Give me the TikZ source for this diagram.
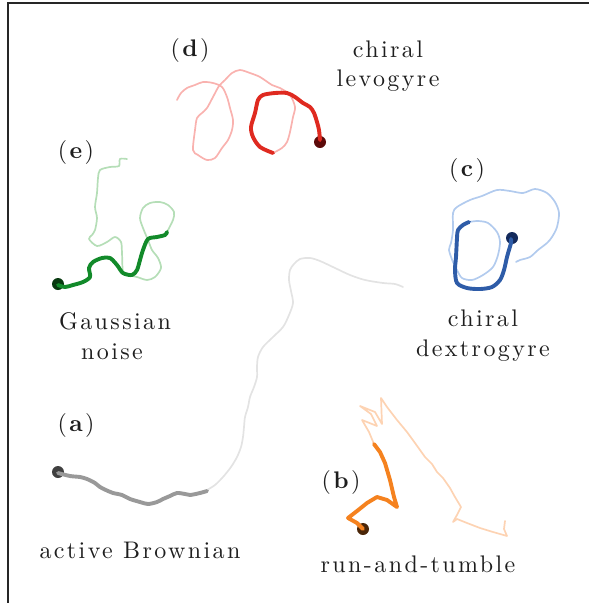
\documentclass[tikz,border=0pt]{standalone}
\usepackage{fontspec}
\setmainfont{lmroman10-regular.otf}[BoldFont=lmroman10-bold.otf,ItalicFont=lmroman10-italic.otf,LetterSpace=10]
\definecolor{ink}{HTML}{1E1E1E}
\definecolor{frame}{HTML}{262626}
\definecolor{grayD}{HTML}{999999}
\definecolor{grayL}{HTML}{E3E3E3}
\definecolor{grayP}{HTML}{404040}
\definecolor{orD}{HTML}{F5821F}
\definecolor{orL}{HTML}{FDD3B3}
\definecolor{orP}{HTML}{4A2608}
\definecolor{blD}{HTML}{2E5CA8}
\definecolor{blL}{HTML}{B2CBEE}
\definecolor{blP}{HTML}{142A5C}
\definecolor{rdD}{HTML}{DF2A20}
\definecolor{rdL}{HTML}{F9B2AF}
\definecolor{rdP}{HTML}{5C0A0A}
\definecolor{gnD}{HTML}{128A2A}
\definecolor{gnL}{HTML}{B5DEB7}
\definecolor{gnP}{HTML}{083A10}
\begin{document}
\begin{tikzpicture}[x=1pt,y=-1pt,
  lbl/.style={inner sep=0pt, anchor=base, text=ink, font=\fontsize{24}{30}\selectfont},
  thintrail/.style={line width=1.7pt, line cap=round, line join=round},
  thicktrail/.style={line width=3.9pt, line cap=round, line join=round},
  dot/.style={circle, inner sep=0pt, minimum size=12pt}]
\useasboundingbox (0,0) rectangle (589,603);
% frame
\draw[frame, line width=1.4pt] (8,3) -- (589,3);
\draw[frame, line width=2.2pt] (8,2.3) -- (8,603);

% ---------- light trails ----------
\draw[thintrail, grayL] plot[smooth, tension=0.5] coordinates {(207,490) (215,485) (223,477) (231,467) (237,457) (241,447) (243,437) (244,427) (245,417) (248,407) (250,397) (254,387) (257,377) (257,367) (258,357) (263,347) (273,337) (283,327) (289,315) (293,303) (291,291) (289,280) (290,270) (294,264) (300,259) (310,258) (320,261) (335,268) (350,275) (365,280) (383,283) (395,284) (403,287)};
\draw[thintrail, orL] (374,444) -- (369,432) -- (362,420) -- (377,426) -- (371,414) -- (360,406) -- (375,412) -- (382,424) -- (381,398) -- (387,407) -- (397,420) -- (407,432) -- (415,443) -- (425,457) -- (432,464) -- (437,472) -- (443,478) -- (450,488) -- (455,497) -- (461,507) -- (457,515) -- (453,522) -- (457,519) -- (467,523) -- (480,528) -- (493,532) -- (507,536) -- (504,529) -- (505,521);
\draw[thintrail, blL] plot[smooth, tension=0.5] coordinates {(469,222) (478,221) (488,223) (497,232) (500,242) (498,255) (493,267) (483,275) (472,280) (462,278) (457,270) (453,262) (449,250) (451,243) (453,230) (453,213) (457,207) (470,200) (482,196) (497,190) (510,191) (523,193) (535,189) (547,193) (555,202) (559,213) (557,227) (552,237) (547,243) (538,250) (530,257) (520,260) (516,262)};
\draw[thintrail, rdL] plot[smooth, tension=0.5] coordinates {(273,153) (282,148) (287,142) (290,132) (293,117) (295,107) (290,95) (280,88) (272,85) (260,77) (250,73) (240,70) (232,73) (225,80) (219,86) (213,97) (207,108) (202,113) (197,118) (195,130) (193,150) (198,155) (207,160) (215,158) (222,148) (228,140) (232,130) (233,120) (230,108) (227,97) (222,87) (213,83) (203,82) (195,85) (187,88) (181,93) (177,100)};
\draw[thintrail, gnL] plot[smooth, tension=0.5] coordinates {(167,232) (173,220) (174,212) (168,205) (160,202) (150,203) (143,208) (140,218) (143,228) (148,240) (152,250) (158,258) (161,268) (155,277) (147,280) (137,277) (128,275) (123,272) (122,253) (121,242) (115,237) (107,242) (97,246) (89,239) (92,235) (95,230) (97,218) (95,207) (97,193) (98,178) (100,170) (110,167) (119,166) (120,159) (127,159)};

% ---------- start dots ----------
\node[dot, fill=grayP] (dotA) at (58,472) {};
\node[dot, fill=orP] (dotB) at (363,529) {};
\node[dot, fill=blP] (dotC) at (512,238) {};
\node[dot, fill=rdP] (dotD) at (320,142) {};
\node[dot, fill=gnP] (dotE) at (58,284) {};

% ---------- thick (recent) trails ----------
\draw[thicktrail, grayD] plot[smooth, tension=0.5] coordinates {(58,473) (70,476) (80,477) (87,479) (95,483) (100,487) (108,491) (113,493) (122,495) (130,499) (140,502) (148,504) (157,502) (163,499) (170,496) (177,493) (185,494) (190,495) (200,493) (207,491)};
\draw[thicktrail, orD] (363,529) -- (357,523) -- (348,518) -- (357,511) -- (367,503) -- (377,497) -- (387,500) -- (397,507) -- (394,497) -- (390,480) -- (385,463) -- (380,452) -- (374,444);
\draw[thicktrail, blD] plot[smooth, tension=0.5] coordinates {(511,239) (511,243) (509,250) (507,257) (504,270) (500,280) (492,287) (480,289) (467,288) (457,283) (455,270) (456,257) (457,238) (458,230) (463,225) (469,222)};
\draw[thicktrail, rdD] plot[smooth, tension=0.5] coordinates {(320,140) (319,130) (317,122) (314,113) (310,107) (303,103) (295,97) (287,93) (275,93) (263,95) (258,100) (255,113) (251,127) (253,137) (260,147) (273,153)};
\draw[thicktrail, gnD] plot[smooth, tension=0.5] coordinates {(58,285) (65,287) (73,285) (83,282) (90,277) (89,268) (93,262) (102,258) (110,258) (117,265) (123,273) (132,275) (137,270) (140,260) (143,250) (148,239) (157,237) (165,235) (167,232)};

% ---------- labels ----------
\node[lbl] (labD) at (190,56) {(\textbf{d})};
\node[lbl] (levoA) at (388,57) {chiral};
\node[lbl] (levoB) at (388,86) {levogyre};
\node[lbl] (labE) at (76,158) {(\textbf{e})};
\node[lbl] (labC) at (467,176) {(\textbf{c})};
\node[lbl] (gaussA) at (115,329) {Gaussian};
\node[lbl] (gaussB) at (112,359) {noise};
\node[lbl] (dextA) at (483,326) {chiral};
\node[lbl] (dextB) at (483,356) {dextrogyre};
\node[lbl] (labA) at (76,431) {(\textbf{a})};
\node[lbl] (labB) at (341,488) {(\textbf{b})};
\node[lbl] (abp) at (140,558) {active Brownian};
\node[lbl] (rtp) at (418,572) {run-and-tumble};
\end{tikzpicture}
\end{document}
